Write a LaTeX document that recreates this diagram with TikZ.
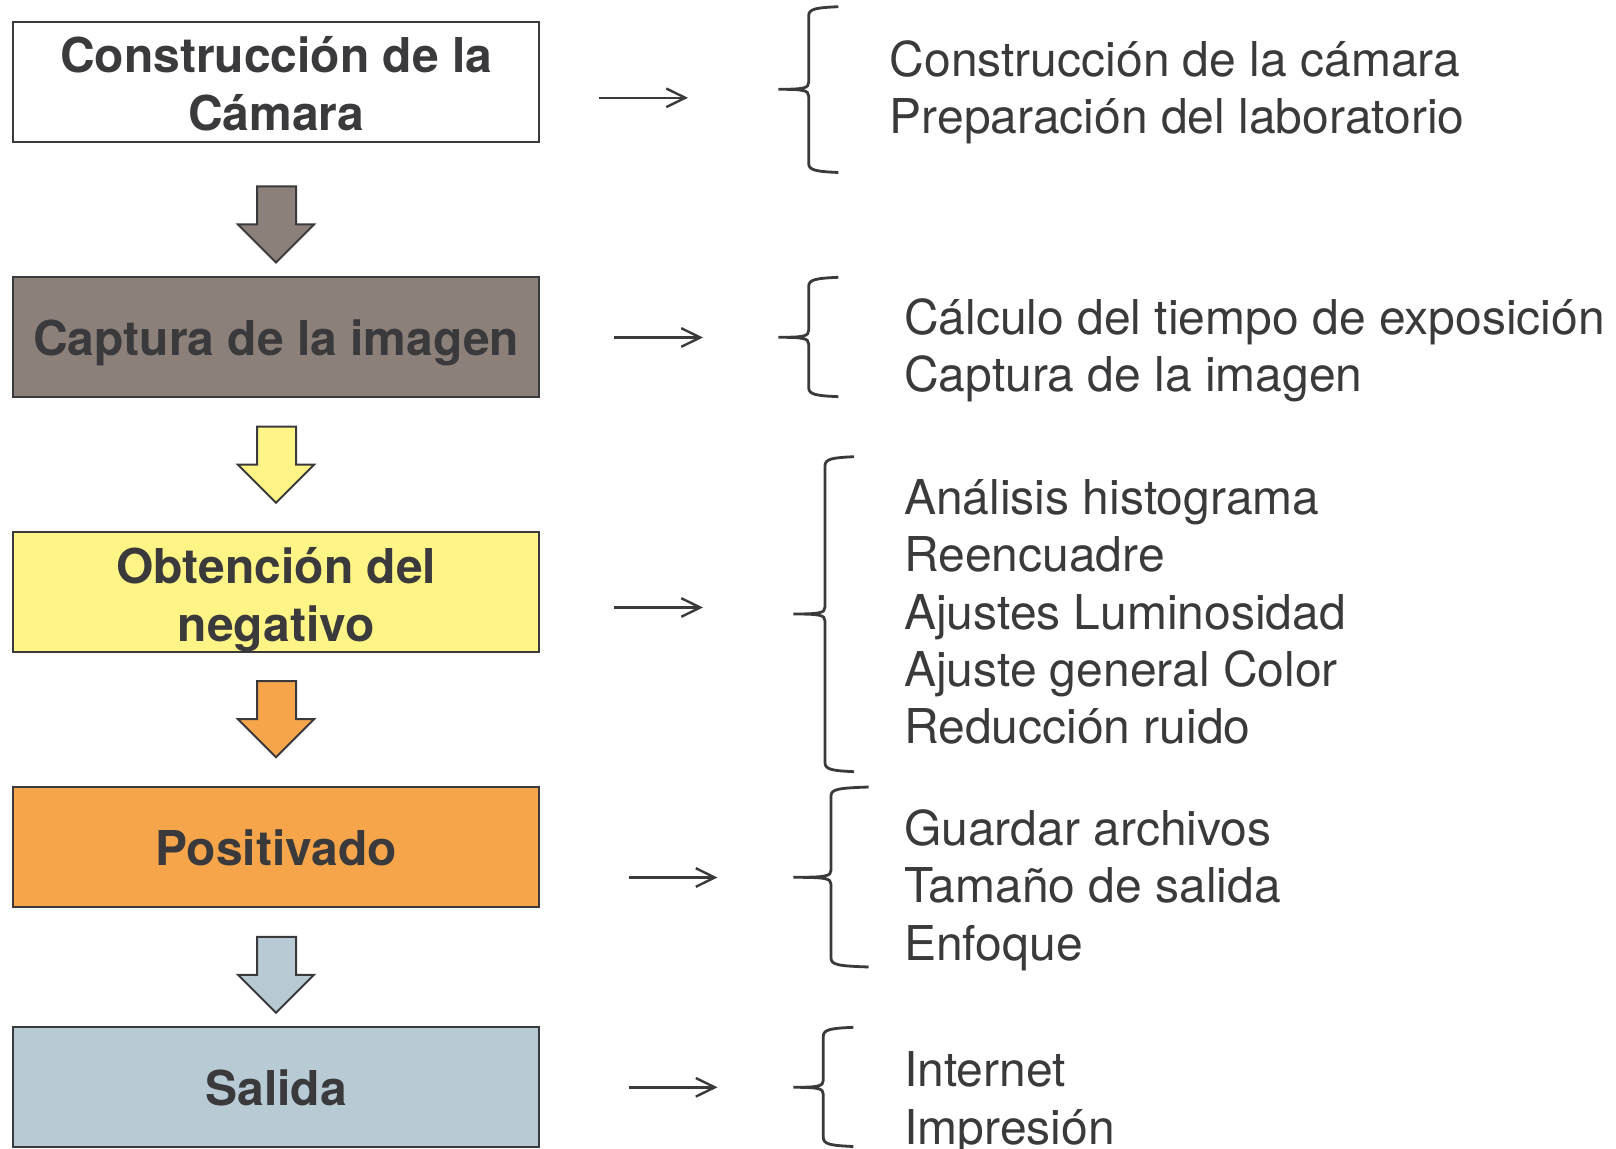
\documentclass[tikz,border=0pt]{standalone}
\usepackage{fontspec}
\setmainfont{TeX Gyre Heros}
\usetikzlibrary{arrows.meta}
\definecolor{ink}{HTML}{3A3A3C}
\definecolor{cgray}{HTML}{8C807B}
\definecolor{cyellow}{HTML}{FFF586}
\definecolor{corange}{HTML}{F7A54A}
\definecolor{cblue}{HTML}{B8CAD4}
\newcommand\mybrace[6]{%
  \draw[brc] (#3,#4) .. controls (#2+8,#4+1) and (#2,#4+2) .. (#2,#4+9)
    -- (#2,#5-7) .. controls (#2,#5-1) and (#2-5,#5) .. (#1,#5)
    .. controls (#2-5,#5) and (#2,#5+1) .. (#2,#5+7)
    -- (#2,#6-9) .. controls (#2,#6-2) and (#2+8,#6-1) .. (#3,#6);}
\newcommand\downarr[2]{%
  \draw[darr, fill=#2] (257,#1) -- (296,#1) -- (296,#1+38) -- (314,#1+38)
    -- (276,#1+76) -- (238,#1+38) -- (257,#1+38) -- cycle;}
\begin{document}
\begin{tikzpicture}[x=0.5pt,y=-0.5pt,
  stage/.style={draw=ink, line width=1pt, minimum width=262.8pt, minimum height=60pt, inner sep=0pt},
  btxt/.style={font=\fontsize{24}{28.5}\selectfont\bfseries, text=ink, inner sep=0pt, anchor=base},
  itxt/.style={font=\fontsize{24}{28.5}\selectfont, text=ink, inner sep=0pt, anchor=base west},
  ptr/.style={draw=ink, line width=1.2pt, -{Straight Barb[length=9.5pt,width=9.3pt,line width=1.2pt]}},
  brc/.style={draw=ink, line width=1.4pt},
  darr/.style={draw=ink, line width=1pt, line join=miter}]
\useasboundingbox (0,0) rectangle (1616,1149);

% stage boxes
\node[stage, fill=white]   (b1) at (276.2,81.9)  {};
\node[stage, fill=cgray]   (b2) at (276.2,337)   {};
\node[stage, fill=cyellow] (b3) at (276.2,592)   {};
\node[stage, fill=corange] (b4) at (276.2,847)   {};
\node[stage, fill=cblue]   (b5) at (276.2,1087.3) {};

\node[btxt] (t1a) at (276.2,72.6)  {Construcción de la};
\node[btxt] (t1b) at (276.2,130.3) {Cámara};
\node[btxt] (t2)  at (276.2,356)   {Captura de la imagen};
\node[btxt] (t3a) at (276.2,583.8) {Obtención del};
\node[btxt] (t3b) at (276.2,641.5) {negativo};
\node[btxt] (t4)  at (276.2,865)   {Positivado};
\node[btxt] (t5)  at (276.2,1105)  {Salida};

% block arrows
\downarr{186.5}{cgray}
\downarr{426.7}{cyellow}
\downarr{681.2}{corange}
\downarr{936.8}{cblue}

% thin arrows
\coordinate (a1s) at (599,97.8);   \coordinate (a1e) at (688,97.8);
\coordinate (a2s) at (614,337.5);  \coordinate (a2e) at (703,337.5);
\coordinate (a3s) at (614,607.5);  \coordinate (a3e) at (703,607.5);
\coordinate (a4s) at (629,877.5);  \coordinate (a4e) at (717.5,877.5);
\coordinate (a5s) at (629,1087.3); \coordinate (a5e) at (717.5,1087.3);
\draw[ptr] (a1s) -- (a1e);
\draw[ptr] (a2s) -- (a2e);
\draw[ptr] (a3s) -- (a3e);
\draw[ptr] (a4s) -- (a4e);
\draw[ptr] (a5s) -- (a5e);

% braces
\mybrace{778.3}{808.7}{838.3}{6.7}{89.3}{172.5}
\mybrace{778.3}{808.7}{838.3}{277.3}{337.3}{396.7}
\mybrace{793.3}{825}{854}{456.7}{614}{771.7}
\mybrace{793.3}{831}{868.7}{787}{877.3}{967}
\mybrace{793.3}{823.3}{853.3}{1027.3}{1087.3}{1146.5}

% item texts
\node[itxt] (r1a) at (889.4,76.5)  {Construcción de la cámara};
\node[itxt] (r1b) at (889.4,133.7) {Preparación del laboratorio};
\node[itxt] (r2a) at (903.8,334.5) {Cálculo del tiempo de exposición};
\node[itxt] (r2b) at (903.8,391.5) {Captura de la imagen};
\node[itxt] (r3a) at (903.8,514.5) {Análisis histograma};
\node[itxt] (r3b) at (903.8,571.8) {Reencuadre};
\node[itxt] (r3c) at (903.8,629.1) {Ajustes Luminosidad};
\node[itxt] (r3d) at (903.8,686.4) {Ajuste general Color};
\node[itxt] (r3e) at (903.8,743.7) {Reducción ruido};
\node[itxt] (r4a) at (903.8,845.6) {Guardar archivos};
\node[itxt] (r4b) at (903.8,902.9) {Tamaño de salida};
\node[itxt] (r4c) at (903.8,960.2) {Enfoque};
\node[itxt] (r5a) at (903.8,1086.7) {Internet};
\node[itxt] (r5b) at (903.8,1144)  {Impresión};
\end{tikzpicture}
\end{document}
